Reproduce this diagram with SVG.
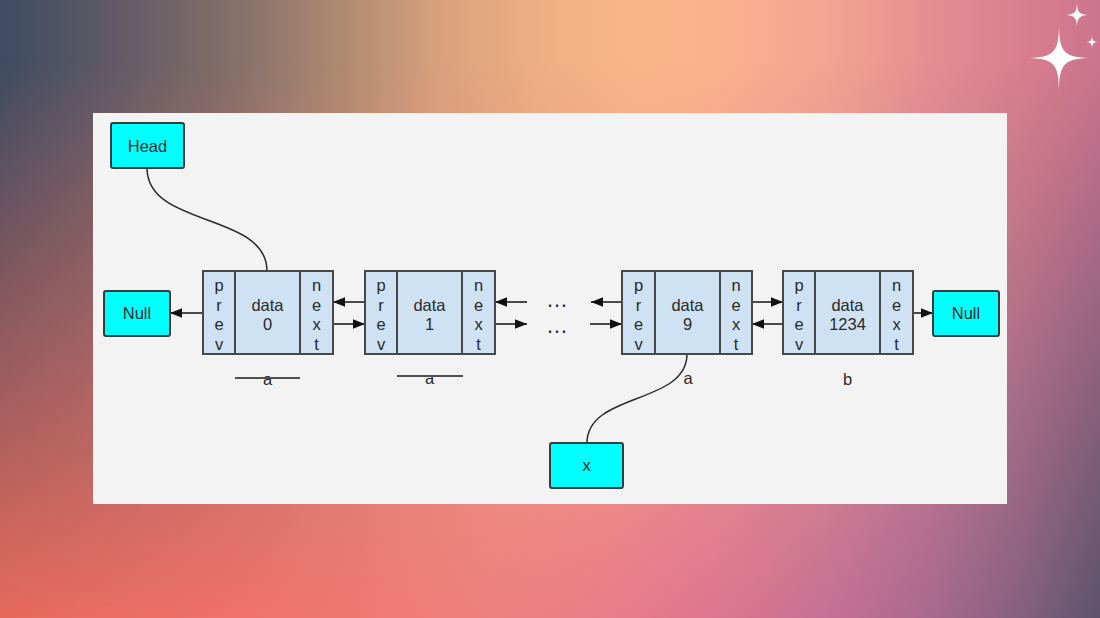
<svg xmlns="http://www.w3.org/2000/svg" width="1100" height="618" viewBox="0 0 1100 618">
<defs>
<linearGradient id="gTop" x1="0" y1="0" x2="1" y2="0">
<stop offset="0" stop-color="#3e4c62"/>
<stop offset="0.1" stop-color="#5f5a65"/>
<stop offset="0.2" stop-color="#806c69"/>
<stop offset="0.3" stop-color="#a98770"/>
<stop offset="0.4" stop-color="#d9a27d"/>
<stop offset="0.5" stop-color="#efb184"/>
<stop offset="0.58" stop-color="#f9b689"/>
<stop offset="0.65" stop-color="#fcb28d"/>
<stop offset="0.75" stop-color="#f5a492"/>
<stop offset="0.85" stop-color="#e58d91"/>
<stop offset="0.95" stop-color="#d67b8e"/>
<stop offset="1" stop-color="#cc7490"/>
</linearGradient>
<linearGradient id="gBot" x1="0" y1="0" x2="1" y2="0">
<stop offset="0" stop-color="#e66a5b"/>
<stop offset="0.2" stop-color="#ef7169"/>
<stop offset="0.35" stop-color="#f07a74"/>
<stop offset="0.45" stop-color="#ee8080"/>
<stop offset="0.55" stop-color="#e97d88"/>
<stop offset="0.65" stop-color="#dc7690"/>
<stop offset="0.75" stop-color="#c67093"/>
<stop offset="0.85" stop-color="#a6698d"/>
<stop offset="0.93" stop-color="#83607f"/>
<stop offset="1" stop-color="#5b536c"/>
</linearGradient>
<linearGradient id="gV" x1="0" y1="0" x2="0" y2="1">
<stop offset="0.1" stop-color="#000"/>
<stop offset="1" stop-color="#fff"/>
</linearGradient>
<mask id="mV"><rect x="0" y="0" width="1100" height="618" fill="url(#gV)"/></mask>
<marker id="arr" markerUnits="userSpaceOnUse" markerWidth="12" markerHeight="10" refX="12" refY="5" orient="auto">
<path d="M0,0.3 L12,5 L0,9.7 z" fill="#111"/>
</marker>
<style>
.t{font-family:"Liberation Sans",Arial,sans-serif;font-size:16.5px;fill:#2a2a2a;text-anchor:middle}
.ell{font-family:"Liberation Sans",Arial,sans-serif;font-size:22px;fill:#2a2a2a;text-anchor:middle}
.cell{fill:#cfe2f3;stroke:#474747;stroke-width:2}
.cy{fill:#00ffff;stroke:#3a3a3a;stroke-width:2}
.ln{stroke:#111;stroke-width:1.5;fill:none}
.crv{stroke:#2a2a2a;stroke-width:1.5;fill:none}
.strike{stroke:#505050;stroke-width:2}
.star{fill:#ffffff}
</style>
</defs>

<!-- background -->
<rect x="0" y="0" width="1100" height="618" fill="url(#gTop)"/>
<rect x="0" y="0" width="1100" height="618" fill="url(#gBot)" mask="url(#mV)"/>

<!-- sparkles -->
<path class="star" d="M1059,23 C1059,53 1064,58 1094,58 C1064,58 1059,63 1059,93 C1059,63 1054,58 1024,58 C1054,58 1059,53 1059,23 Z"/>
<path class="star" d="M1077,0 C1077,13 1079,15 1092,15 C1079,15 1077,17 1077,30 C1077,17 1075,15 1062,15 C1075,15 1077,13 1077,0 Z"/>
<path class="star" d="M1092,34 C1092,41 1093,42 1100,42 C1093,42 1092,43 1092,50 C1092,43 1091,42 1084,42 C1091,42 1092,41 1092,34 Z"/>

<!-- panel -->
<rect x="93" y="113" width="914" height="391" fill="#f3f3f3"/>

<!-- connectors -->
<g id="connectors">
<path class="crv" d="M147,168 C147,228 267,212 267,271"/>
<path class="crv" d="M687,354 C687,405 587,392 587,443"/>
<line class="ln" x1="203" y1="313" x2="170" y2="313" marker-end="url(#arr)"/>
<line class="ln" x1="365" y1="302" x2="333" y2="302" marker-end="url(#arr)"/>
<line class="ln" x1="333" y1="324" x2="365" y2="324" marker-end="url(#arr)"/>
<line class="ln" x1="527" y1="302" x2="495" y2="302" marker-end="url(#arr)"/>
<line class="ln" x1="495" y1="324" x2="527" y2="324" marker-end="url(#arr)"/>
<line class="ln" x1="622" y1="302" x2="591" y2="302" marker-end="url(#arr)"/>
<line class="ln" x1="590" y1="324" x2="622" y2="324" marker-end="url(#arr)"/>
<line class="ln" x1="752" y1="302" x2="783" y2="302" marker-end="url(#arr)"/>
<line class="ln" x1="783" y1="324" x2="752" y2="324" marker-end="url(#arr)"/>
<line class="ln" x1="913" y1="313" x2="933" y2="313" marker-end="url(#arr)"/>
<text class="ell" x="557" y="307">…</text>
<text class="ell" x="557" y="333">…</text>
</g>

<!-- Head -->
<g id="head">
<rect class="cy" x="111" y="123" width="73" height="45" rx="2"/>
<text class="t" x="147.5" y="152">Head</text>
</g>

<!-- Null left -->
<g id="null-left">
<rect class="cy" x="104" y="291" width="66" height="45" rx="2"/>
<text class="t" x="137" y="319">Null</text>
</g>

<!-- Null right -->
<g id="null-right">
<rect class="cy" x="933" y="291" width="66" height="45" rx="2"/>
<text class="t" x="966" y="319">Null</text>
</g>

<!-- x -->
<g id="x">
<rect class="cy" x="550" y="443" width="73" height="45" rx="2"/>
<text class="t" x="586.5" y="471">x</text>
</g>

<!-- node 0 -->
<g id="node0">
<rect class="cell" x="203" y="271" width="32" height="83"/>
<rect class="cell" x="235" y="271" width="65" height="83"/>
<rect class="cell" x="300" y="271" width="33" height="83"/>
<text class="t" x="219" y="291">p</text><text class="t" x="219" y="310.5">r</text><text class="t" x="219" y="330">e</text><text class="t" x="219" y="349.5">v</text>
<text class="t" x="267.5" y="311">data</text><text class="t" x="267.5" y="330">0</text>
<text class="t" x="316.5" y="291">n</text><text class="t" x="316.5" y="310.5">e</text><text class="t" x="316.5" y="330">x</text><text class="t" x="316.5" y="349.5">t</text>
<text class="t" x="267.5" y="385">a</text>
<line class="strike" x1="235" y1="378" x2="300" y2="378"/>
</g>

<!-- node 1 -->
<g id="node1">
<rect class="cell" x="365" y="271" width="32" height="83"/>
<rect class="cell" x="397" y="271" width="65" height="83"/>
<rect class="cell" x="462" y="271" width="33" height="83"/>
<text class="t" x="381" y="291">p</text><text class="t" x="381" y="310.5">r</text><text class="t" x="381" y="330">e</text><text class="t" x="381" y="349.5">v</text>
<text class="t" x="429.5" y="311">data</text><text class="t" x="429.5" y="330">1</text>
<text class="t" x="478.5" y="291">n</text><text class="t" x="478.5" y="310.5">e</text><text class="t" x="478.5" y="330">x</text><text class="t" x="478.5" y="349.5">t</text>
<text class="t" x="429.5" y="384">a</text>
<line class="strike" x1="397" y1="376" x2="463" y2="376"/>
</g>

<!-- node 9 -->
<g id="node9">
<rect class="cell" x="622" y="271" width="33" height="83"/>
<rect class="cell" x="655" y="271" width="65" height="83"/>
<rect class="cell" x="720" y="271" width="32" height="83"/>
<text class="t" x="638.5" y="291">p</text><text class="t" x="638.5" y="310.5">r</text><text class="t" x="638.5" y="330">e</text><text class="t" x="638.5" y="349.5">v</text>
<text class="t" x="687.5" y="311">data</text><text class="t" x="687.5" y="330">9</text>
<text class="t" x="736" y="291">n</text><text class="t" x="736" y="310.5">e</text><text class="t" x="736" y="330">x</text><text class="t" x="736" y="349.5">t</text>
<text class="t" x="688" y="384">a</text>
</g>

<!-- node 1234 -->
<g id="node1234">
<rect class="cell" x="783" y="271" width="32" height="83"/>
<rect class="cell" x="815" y="271" width="65" height="83"/>
<rect class="cell" x="880" y="271" width="33" height="83"/>
<text class="t" x="799" y="291">p</text><text class="t" x="799" y="310.5">r</text><text class="t" x="799" y="330">e</text><text class="t" x="799" y="349.5">v</text>
<text class="t" x="847.5" y="311">data</text><text class="t" x="847.5" y="330">1234</text>
<text class="t" x="896.5" y="291">n</text><text class="t" x="896.5" y="310.5">e</text><text class="t" x="896.5" y="330">x</text><text class="t" x="896.5" y="349.5">t</text>
<text class="t" x="847.5" y="385">b</text>
</g>
</svg>
